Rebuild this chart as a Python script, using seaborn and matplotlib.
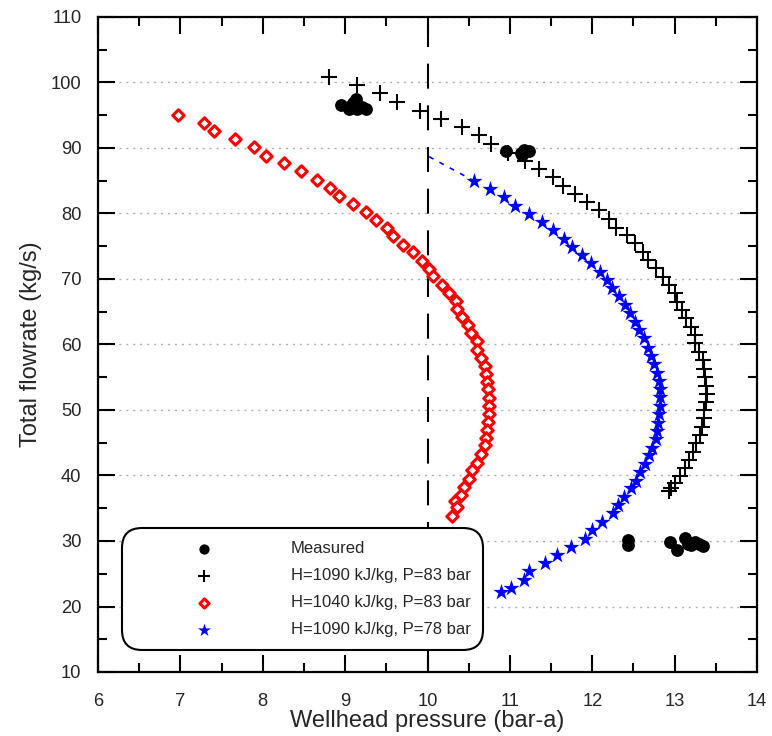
import matplotlib
matplotlib.use("Agg")
import matplotlib.pyplot as plt
import seaborn as sns
import pandas as pd
from matplotlib.ticker import MultipleLocator

# ---------------- data ----------------
measured_p = [8.95, 9.05, 9.10, 9.13, 9.15, 9.20, 9.25, 9.05,
              10.95, 11.13, 11.17, 11.23, 11.15,
              12.44, 12.44, 12.94, 13.03, 13.13, 13.16, 13.25, 13.35, 13.20, 13.30]
measured_f = [96.6, 96.3, 96.8, 97.5, 95.9, 96.3, 95.9, 96.0,
              89.5, 89.2, 89.7, 89.6, 89.0,
              30.2, 29.4, 29.8, 28.7, 30.4, 29.6, 29.9, 29.2, 29.4, 29.5]

h1090_p83_p = [8.807, 9.14, 9.422, 9.633, 9.912, 10.166, 10.414, 10.62, 10.77, 10.98,
               11.18, 11.356, 11.518, 11.639, 11.789, 11.931, 12.077, 12.198, 12.283,
               12.417, 12.513, 12.611, 12.679, 12.776, 12.857, 12.926, 13.002, 13.03,
               13.09, 13.136, 13.193, 13.249, 13.245, 13.29, 13.342, 13.358, 13.37,
               13.383, 13.387, 13.378, 13.362, 13.354, 13.338, 13.305, 13.265, 13.224,
               13.175, 13.127, 13.063, 13.002, 12.954, 12.93]
h1090_p83_f = [100.79, 99.62, 98.35, 97.02, 95.65, 94.43, 93.16, 91.94, 90.61, 89.3,
               88.0, 86.79, 85.57, 84.25, 82.98, 81.76, 80.53, 79.21, 77.83,
               76.72, 75.45, 74.12, 72.90, 71.63, 70.35, 69.08, 67.82, 66.5,
               65.2, 64.09, 62.72, 61.45, 60.18, 58.90, 57.63, 56.26, 54.99,
               53.61, 52.40, 51.22, 50.0, 48.73, 47.45, 46.18, 44.91, 43.63,
               42.37, 41.10, 39.92, 38.8, 38.14, 37.68]

h1040_p83_p = [6.967, 7.29, 7.41, 7.667, 7.893, 8.039, 8.253, 8.464, 8.658, 8.82,
               8.925, 9.10, 9.25, 9.38, 9.51, 9.576, 9.705, 9.827, 9.928, 10.017,
               10.07, 10.171, 10.256, 10.341, 10.353, 10.417, 10.494, 10.527, 10.596,
               10.596, 10.648, 10.697, 10.713, 10.725, 10.733, 10.742, 10.749, 10.749,
               10.737, 10.725, 10.709, 10.693, 10.648, 10.604, 10.539, 10.499, 10.442,
               10.401, 10.336, 10.36, 10.296]
h1040_p83_f = [95.08, 93.86, 92.55, 91.33, 90.1, 88.83, 87.66, 86.44, 85.16, 83.94,
               82.63, 81.45, 80.23, 78.96, 77.74, 76.52, 75.24, 74.08, 72.8, 71.6,
               70.4, 69.08, 67.82, 66.59, 65.37, 64.15, 62.98, 61.70, 60.53,
               59.16, 57.98, 56.76, 55.54, 54.32, 53.16, 51.88, 50.66, 49.39,
               48.17, 46.95, 45.77, 44.61, 43.24, 41.96, 40.79, 39.42, 38.24,
               37.02, 36.1, 35.15, 33.86]

h1090_p78_p = [10.567, 10.757, 10.927, 11.061, 11.234, 11.388, 11.522, 11.655, 11.756,
               11.874, 11.983, 12.089, 12.177, 12.242, 12.323, 12.393, 12.456, 12.517,
               12.570, 12.626, 12.68, 12.71, 12.75, 12.78, 12.81, 12.82, 12.82, 12.82,
               12.81, 12.80, 12.79, 12.77, 12.73, 12.69, 12.64, 12.58, 12.53, 12.47,
               12.39, 12.31, 12.25, 12.12, 12.0, 11.91, 11.745, 11.575, 11.43, 11.227,
               11.174, 11.016, 10.89]
h1090_p78_f = [84.96, 83.74, 82.47, 81.19, 79.92, 78.70, 77.48, 76.16, 74.89,
               73.62, 72.40, 71.12, 69.90, 68.63, 67.33, 65.98, 64.76, 63.48,
               62.21, 60.99, 59.51, 58.24, 56.98, 55.70, 54.43, 53.16, 51.94, 50.61,
               49.34, 48.06, 46.84, 45.62, 44.24, 43.08, 41.76, 40.53, 39.21, 38.05,
               36.77, 35.50, 34.32, 32.95, 31.68, 30.35, 29.13, 27.86, 26.59, 25.47,
               24.05, 22.87, 22.17]

# dashed extension of the P=78 bar curve to the 10 bar-a line
p78_ext_p = [10.02, 10.567]
p78_ext_f = [88.67, 84.96]

pressure_limit = 10.0

series_labels = ["Measured", "H=1090 kJ/kg, P=83 bar",
                 "H=1040 kJ/kg, P=83 bar", "H=1090 kJ/kg, P=78 bar"]
x_label = "Wellhead pressure (bar-a)"
y_label = "Total flowrate (kg/s)"

# ---------------- style ----------------
sns.set_theme(style="white")
plt.rcParams["font.family"] = ["Liberation Sans", "DejaVu Sans"]

fig = plt.figure(figsize=(7.72, 7.36), dpi=100)
ax = fig.add_axes([98 / 772, 1 - 672 / 736, 659 / 772, 655 / 736])

ax.axvline(pressure_limit, color="black", lw=1.5, dashes=(12, 8), zorder=1)

sns.lineplot(x=p78_ext_p, y=p78_ext_f, ax=ax, color="#0000ff", lw=1.2,
             dashes=False, sort=False, estimator=None, legend=False, zorder=2)
ax.lines[-1].set_dashes((3, 4))

sns.scatterplot(x=measured_p, y=measured_f, ax=ax, marker="o", s=85,
                color="black", edgecolor="black", linewidth=0,
                label=series_labels[0], zorder=4)
sns.scatterplot(x=h1090_p83_p, y=h1090_p83_f, ax=ax, marker="+", s=120,
                color="black", linewidth=1.5, label=series_labels[1], zorder=3)
sns.scatterplot(x=h1040_p83_p, y=h1040_p83_f, ax=ax, marker="D", s=34,
                color="white", edgecolor="#ff0000", linewidth=2.2,
                label=series_labels[2], zorder=3)
sns.scatterplot(x=h1090_p78_p, y=h1090_p78_f, ax=ax, marker="*", s=150,
                color="#0000ff", edgecolor="#0000ff", linewidth=0,
                label=series_labels[3], zorder=3)

ax.set_xlim(6, 14)
ax.set_ylim(10, 110)
ax.xaxis.set_major_locator(MultipleLocator(1))
ax.xaxis.set_minor_locator(MultipleLocator(0.5))
ax.yaxis.set_major_locator(MultipleLocator(10))
ax.yaxis.set_minor_locator(MultipleLocator(5))

ax.grid(False)
ax.yaxis.grid(True, which="major", color="#b0b0b0", lw=1.0,
              linestyle=(0, (1.5, 3.5)))
ax.set_axisbelow(True)

for sp in ax.spines.values():
    sp.set_color("black")
    sp.set_linewidth(1.6)

ax.tick_params(which="both", direction="in", top=True, right=True,
               bottom=True, left=True, color="black", width=1.5)
ax.tick_params(which="major", length=12, labelsize=13.2)
ax.tick_params(axis="x", which="major", pad=15)
ax.tick_params(axis="y", which="major", pad=12)
ax.tick_params(which="minor", length=6.5)

ax.set_xlabel(x_label, fontsize=17, labelpad=0)
ax.set_ylabel(y_label, fontsize=17, labelpad=6)

leg = ax.legend(loc="lower left", bbox_to_anchor=(0.036, 0.0336),
                borderaxespad=0, fontsize=12, handlelength=8.4,
                handletextpad=1.0, borderpad=0.75, labelspacing=0.73,
                frameon=True, fancybox=True, markerscale=0.8)
frame = leg.get_frame()
frame.set_edgecolor("black")
frame.set_linewidth(1.5)
frame.set_facecolor("white")
frame.set_alpha(1)
frame.set_boxstyle("round,pad=0,rounding_size=1.2")
leg.set_zorder(10)

fig.savefig("out.png", dpi=100)
